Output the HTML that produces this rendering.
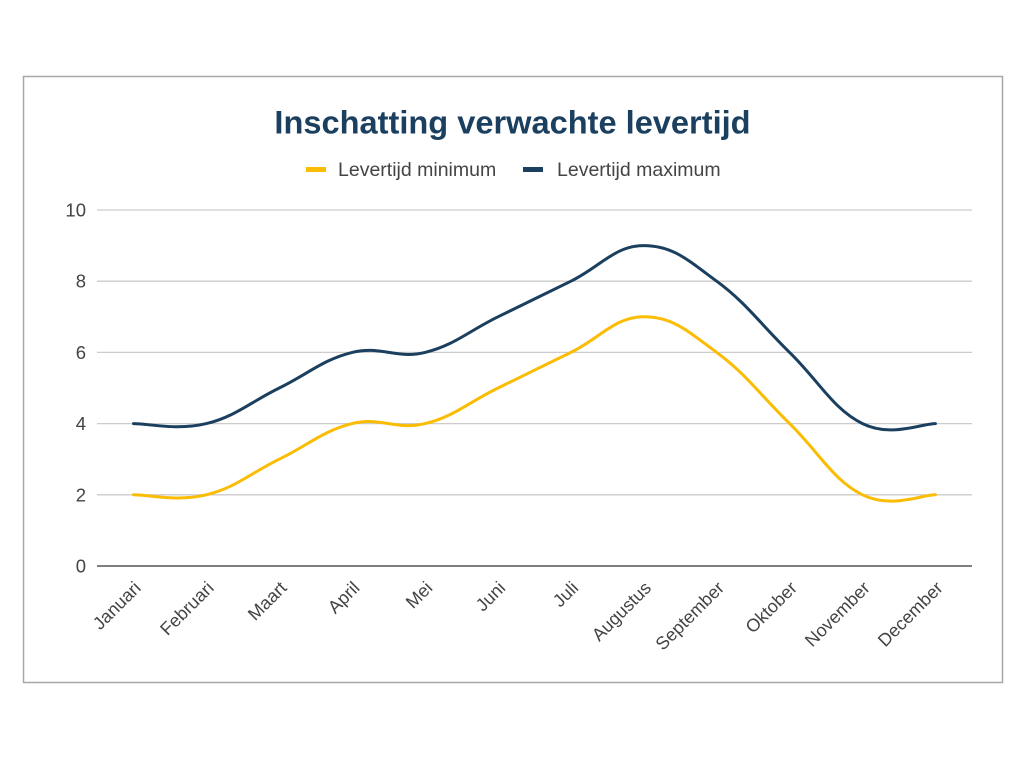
<!DOCTYPE html>
<html>
<head>
<meta charset="utf-8">
<style>
html,body{margin:0;padding:0;background:#fff;}
svg{display:block;}
text{font-family:"Liberation Sans",Arial,sans-serif;}
</style>
</head>
<body>
<svg width="1024" height="759" viewBox="0 0 1024 759" xmlns="http://www.w3.org/2000/svg">
<rect x="0" y="0" width="1024" height="759" fill="#fff"/>
<rect x="23.5" y="76.5" width="979" height="606" fill="#fff" stroke="#a8a8a8" stroke-width="1.5"/>

<!-- title -->
<text x="512.5" y="133.5" text-anchor="middle" font-size="32.6" font-weight="bold" fill="#1b3f5f">Inschatting verwachte levertijd</text>

<!-- legend -->
<rect x="306" y="167" width="20" height="5" fill="#fbbc04"/>
<text x="338" y="176" font-size="19.5" fill="#444">Levertijd minimum</text>
<rect x="523" y="167" width="20" height="5" fill="#1b3f5f"/>
<text x="557" y="176" font-size="19.5" fill="#444">Levertijd maximum</text>

<!-- gridlines -->
<g stroke="#cccccc" stroke-width="1.3">
<line x1="97" y1="210" x2="972" y2="210"/>
<line x1="97" y1="281.2" x2="972" y2="281.2"/>
<line x1="97" y1="352.4" x2="972" y2="352.4"/>
<line x1="97" y1="423.6" x2="972" y2="423.6"/>
<line x1="97" y1="494.8" x2="972" y2="494.8"/>
</g>
<line x1="97" y1="566" x2="972" y2="566" stroke="#555" stroke-width="1.6"/>

<!-- y labels -->
<g font-size="18.5" fill="#444" text-anchor="end">
<text x="86" y="216.5">10</text>
<text x="86" y="287.7">8</text>
<text x="86" y="358.9">6</text>
<text x="86" y="430.1">4</text>
<text x="86" y="501.3">2</text>
<text x="86" y="572.5">0</text>
</g>

<!-- x labels -->
<g font-size="18" fill="#444" text-anchor="end">
<text transform="translate(142,589) rotate(-45)">Januari</text>
<text transform="translate(214.9,589) rotate(-45)">Februari</text>
<text transform="translate(287.8,589) rotate(-45)">Maart</text>
<text transform="translate(360.7,589) rotate(-45)">April</text>
<text transform="translate(433.6,589) rotate(-45)">Mei</text>
<text transform="translate(506.5,589) rotate(-45)">Juni</text>
<text transform="translate(579.4,589) rotate(-45)">Juli</text>
<text transform="translate(652.3,589) rotate(-45)">Augustus</text>
<text transform="translate(725.2,589) rotate(-45)">September</text>
<text transform="translate(798.1,589) rotate(-45)">Oktober</text>
<text transform="translate(871,589) rotate(-45)">November</text>
<text transform="translate(943.9,589) rotate(-45)">December</text>
</g>

<!-- series -->
<path fill="none" stroke="#fbbc04" stroke-width="3" stroke-linecap="round" stroke-linejoin="round"
d="M133.5,494.8
C148.08,494.8 177.24,501.92 206.4,494.8
C235.56,487.68 250.14,473.44 279.3,459.2
C308.46,444.96 323.04,430.72 352.2,423.6
C381.36,416.48 395.94,430.72 425.1,423.6
C454.26,416.48 468.84,402.24 498,388
C527.16,373.76 541.74,366.64 570.9,352.4
C600.06,338.16 614.64,316.8 643.8,316.8
C672.96,316.8 687.54,331.04 716.7,352.4
C745.86,373.76 760.44,395.12 789.6,423.6
C818.76,452.08 833.34,480.56 862.5,494.8
C891.66,509.04 920.82,494.8 935.4,494.8"/>
<path fill="none" stroke="#1b3f5f" stroke-width="3" stroke-linecap="round" stroke-linejoin="round" transform="translate(0,-71.2)"
d="M133.5,494.8
C148.08,494.8 177.24,501.92 206.4,494.8
C235.56,487.68 250.14,473.44 279.3,459.2
C308.46,444.96 323.04,430.72 352.2,423.6
C381.36,416.48 395.94,430.72 425.1,423.6
C454.26,416.48 468.84,402.24 498,388
C527.16,373.76 541.74,366.64 570.9,352.4
C600.06,338.16 614.64,316.8 643.8,316.8
C672.96,316.8 687.54,331.04 716.7,352.4
C745.86,373.76 760.44,395.12 789.6,423.6
C818.76,452.08 833.34,480.56 862.5,494.8
C891.66,509.04 920.82,494.8 935.4,494.8"/>
</svg>
</body>
</html>
